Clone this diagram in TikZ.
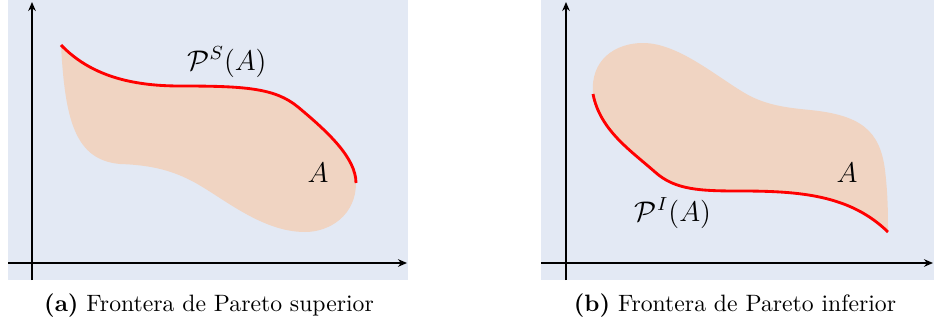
\documentclass[tikz,border=0pt]{standalone}
\usetikzlibrary{arrows.meta}
\definecolor{bgblue}{RGB}{227,233,244}
\definecolor{regfill}{RGB}{240,212,194}
\tikzset{
  panel/.style={fill=bgblue},
  axis/.style={line width=0.55pt,-{Stealth[length=3.8pt,width=3.2pt]}},
  front/.style={draw=red,line width=1.2pt},
  region/.style={fill=regfill},
  lbl/.style={font=\large},
  captext/.style={font=\normalsize}
}
\begin{document}
\begin{tikzpicture}[x=0.4222pt,y=-0.4222pt]
\useasboundingbox (0,0) rectangle (934,324);
% panel (a)
\fill[panel] (8,0) rectangle (408,280);
\coordinate (ya0) at (32,280); \coordinate (ya1) at (32,2);
\coordinate (xa0) at (8,263); \coordinate (xa1) at (407,263);
\fill[region] (61,45) .. controls (90,75) and (130,86) .. (180,86)
  .. controls (245,86) and (275,88) .. (298,107)
  .. controls (328,132) and (356,158) .. (356,183)
  .. controls (356,215) and (330,232) .. (305,232)
  .. controls (260,232) and (220,195) .. (190,180)
  .. controls (170,170) and (150,165) .. (120,164)
  .. controls (75,160) and (65,120) .. (61,45) -- cycle;
\draw[front] (61,45) .. controls (90,75) and (130,86) .. (180,86)
  .. controls (245,86) and (275,88) .. (298,107)
  .. controls (328,132) and (356,158) .. (356,183);
\draw[axis] (ya0) -- (ya1);
\draw[axis] (xa0) -- (xa1);
\node[lbl] (ps) at (227,62) {$\mathcal{P}^S(A)$};
\node[lbl] (aa) at (318,173) {$A$};
\node[captext] (capa) at (209,306) {\textbf{(a)} Frontera de Pareto superior};
% panel (b)
\fill[panel] (541,0) rectangle (934,280);
\coordinate (yb0) at (566,280); \coordinate (yb1) at (566,2);
\coordinate (xb0) at (541,263); \coordinate (xb1) at (933,263);
\fill[region] (593,94) .. controls (590,60) and (615,43) .. (643,43)
  .. controls (680,43) and (720,80) .. (750,96)
  .. controls (770,106) and (790,108) .. (810,110)
  .. controls (860,115) and (880,130) .. (885,170)
  .. controls (888,195) and (888,215) .. (888,232)
  .. controls (850,195) and (800,191) .. (740,191)
  .. controls (700,191) and (675,190) .. (655,172)
  .. controls (630,150) and (600,130) .. (593,94) -- cycle;
\draw[front] (593,94) .. controls (600,130) and (630,150) .. (655,172)
  .. controls (675,190) and (700,191) .. (740,191)
  .. controls (800,191) and (850,195) .. (888,232);
\draw[axis] (yb0) -- (yb1);
\draw[axis] (xb0) -- (xb1);
\node[lbl] (pi) at (673,213) {$\mathcal{P}^I(A)$};
\node[lbl] (ab) at (847,173) {$A$};
\node[captext] (capb) at (735,306) {\textbf{(b)} Frontera de Pareto inferior};
\end{tikzpicture}
\end{document}
